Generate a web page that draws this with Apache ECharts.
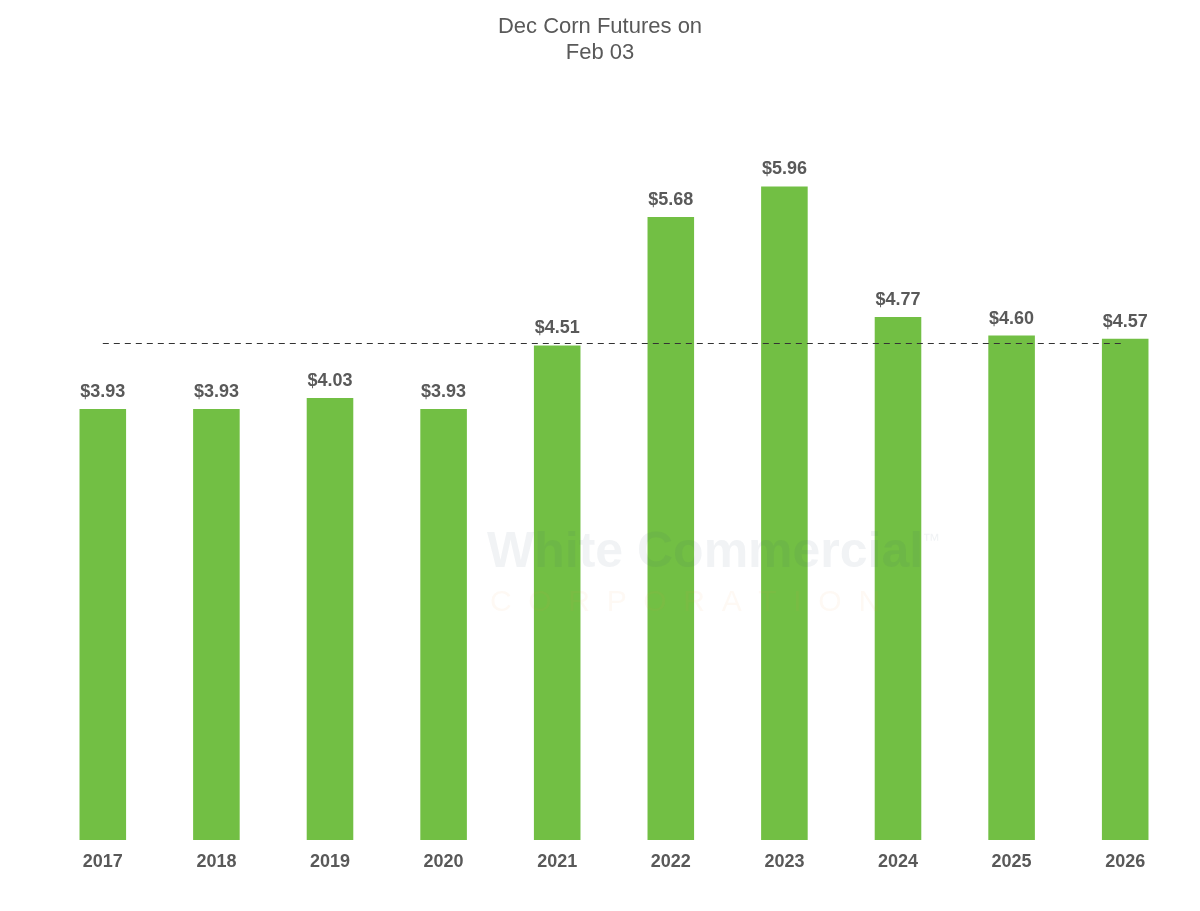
<!DOCTYPE html>
<html>
<head>
<meta charset="utf-8">
<script src="https://cdn.jsdelivr.net/npm/echarts@6/dist/echarts.min.js"></script>
<style>
  html, body { margin: 0; padding: 0; background: #fff; }
  #chart { width: 1200px; height: 911px; }
</style>
</head>
<body>
<div id="chart"></div>
<script>
const years = ['2017', '2018', '2019', '2020', '2021', '2022', '2023', '2024', '2025', '2026']
const prices = [3.93, 3.93, 4.03, 3.93, 4.51, 5.68, 5.96, 4.77, 4.60, 4.57]
const avgLine = 4.53

const chart = echarts.init(document.getElementById('chart'))

const option = {
  animation: false,
  textStyle: {
    fontFamily: 'Liberation Sans, Arial, sans-serif'
  },
  title: {
    text: 'Dec Corn Futures on\nFeb 03',
    left: 'center',
    top: 9,
    textStyle: {
      fontSize: 22,
      fontWeight: 'normal',
      color: '#595959',
      lineHeight: 26
    }
  },
  grid: {
    left: 46,
    right: 18,
    top: 182,
    bottom: 71
  },
  xAxis: {
    type: 'category',
    data: years,
    axisLine: { show: false },
    axisTick: { show: false },
    axisLabel: {
      margin: 13,
      fontSize: 18,
      fontWeight: 'bold',
      color: '#595959'
    }
  },
  yAxis: {
    type: 'value',
    min: 0,
    max: 6,
    show: false,
    splitLine: { show: false }
  },
  series: [{
    type: 'bar',
    data: prices,
    barWidth: '41%',
    itemStyle: { color: '#72bf44' },
    label: {
      show: true,
      position: 'top',
      distance: 8,
      fontSize: 18,
      fontWeight: 'bold',
      color: '#595959',
      formatter: p => '$' + p.value.toFixed(2)
    },
    markLine: {
      silent: true,
      symbol: ['none', 'none'],
      label: { show: false },
      lineStyle: { color: '#333', type: [6, 5], width: 1 },
      data: [[
        { coord: [years[0], avgLine] },
        { coord: [years[years.length - 1], avgLine] }
      ]]
    }
  }],
  // faint watermark over the plot
  graphic: [{
    type: 'text',
    left: 487,
    top: 528,
    z: 100,
    silent: true,
    style: {
      text: 'White Commercial',
      fontSize: 50,
      fontWeight: 'bold',
      fontFamily: 'Liberation Sans, Arial, sans-serif',
      fill: 'rgba(60, 80, 120, 0.07)'
    }
  }, {
    type: 'text',
    left: 922,
    top: 532,
    z: 100,
    silent: true,
    style: {
      text: '™',
      fontSize: 18,
      fill: 'rgba(60, 80, 120, 0.07)'
    }
  }, {
    type: 'text',
    left: 490,
    top: 588,
    z: 100,
    silent: true,
    style: {
      text: 'C  O  R  P  O  R  A  T  I  O  N',
      fontSize: 30,
      fontFamily: 'Liberation Sans, Arial, sans-serif',
      fill: 'rgba(245, 160, 60, 0.06)'
    }
  }]
}

chart.setOption(option)
</script>
</body>
</html>
